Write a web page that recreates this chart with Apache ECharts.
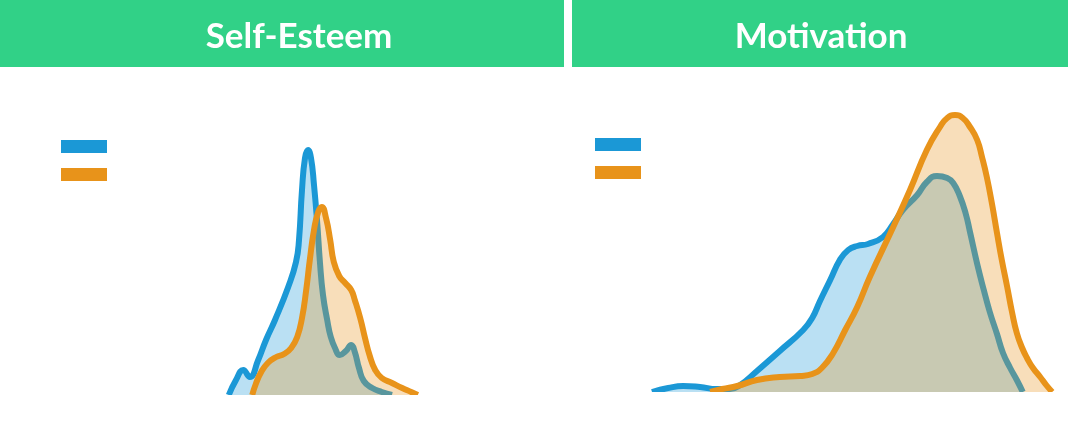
<!DOCTYPE html>
<html>
<head>
<meta charset="utf-8">
<title>Self-Esteem and Motivation</title>
<script src="https://cdn.jsdelivr.net/npm/echarts@6/dist/echarts.min.js"></script>
<style>
  html, body { margin: 0; padding: 0; background: #fff; }
  #chart { width: 1068px; height: 430px; }
</style>
</head>
<body>
<div id="chart"></div>
<script>
// panel titles and group names
const panelTitles = ["Self-Esteem", "Motivation"];
const groupNames = ["Group A", "Group B"];

// Self-Esteem densities (score, density)
const esteemA = [
  [14.8, 0], [16.0, 0.15], [17.2, 0.25], [18.3, 0.18], [19.7, 0.35], [21.0, 0.55],
  [22.5, 0.75], [24.7, 1.08], [26.0, 1.33], [26.5, 1.55], [27.0, 2.05], [27.5, 2.37],
  [28.0, 2.45], [28.5, 2.37], [29.0, 2.1], [29.5, 1.75], [30.0, 1.32], [30.5, 1.0],
  [31.2, 0.75], [31.8, 0.58], [32.5, 0.47], [33.3, 0.4], [34.3, 0.44], [35.2, 0.5],
  [35.8, 0.43], [36.5, 0.27], [37.3, 0.14], [38.7, 0.07], [40.3, 0.03], [42.0, 0]
];
const esteemB = [
  [18.7, 0], [19.3, 0.11], [20.2, 0.23], [21.3, 0.32], [22.7, 0.38], [24.0, 0.41],
  [25.2, 0.47], [26.2, 0.58], [27.0, 0.77], [27.7, 1.05], [28.3, 1.35], [29.0, 1.65],
  [29.7, 1.83], [30.3, 1.88], [31.0, 1.77], [31.7, 1.55], [32.3, 1.33], [33.2, 1.19],
  [34.2, 1.12], [35.2, 1.05], [35.8, 0.95], [36.7, 0.77], [37.5, 0.57], [38.3, 0.39],
  [39.2, 0.25], [40.3, 0.17], [42.0, 0.12], [43.7, 0.07], [45.2, 0.03], [46.3, 0]
];

// Motivation densities (score, density)
const motivA = [
  [2.0, 0], [4.7, 0.04], [7.2, 0.06], [10.0, 0.05], [12.8, 0.03], [15.0, 0.03],
  [16.7, 0.07], [19.5, 0.21], [23.3, 0.41], [27.2, 0.62], [28.7, 0.74], [30.0, 0.91],
  [31.7, 1.12], [33.3, 1.32], [34.7, 1.42], [36.2, 1.46], [38.0, 1.48], [40.5, 1.55],
  [42.2, 1.68], [43.8, 1.82], [46.2, 1.97], [47.8, 2.1], [49.5, 2.16], [51.2, 2.14],
  [52.2, 2.09], [53.3, 1.96], [54.3, 1.78], [55.0, 1.6], [56.2, 1.28], [57.3, 1.02],
  [58.3, 0.8], [59.5, 0.58], [60.5, 0.39], [61.7, 0.24], [62.8, 0.12], [63.8, 0]
];
const motivB = [
  [11.7, 0], [13.7, 0.03], [16.2, 0.06], [19.5, 0.12], [23.3, 0.15], [26.7, 0.16],
  [28.7, 0.18], [30.3, 0.24], [32.2, 0.39], [34.2, 0.62], [36.2, 0.85], [38.3, 1.15],
  [42.2, 1.65], [45.0, 2.02], [47.8, 2.42], [50.0, 2.65], [51.2, 2.74], [52.5, 2.77],
  [53.8, 2.74], [55.0, 2.65], [56.2, 2.52], [57.0, 2.35], [57.8, 2.15], [58.7, 1.87],
  [59.5, 1.59], [60.3, 1.32], [61.2, 1.05], [62.0, 0.8], [62.8, 0.59], [63.7, 0.44],
  [64.5, 0.34], [65.5, 0.24], [66.7, 0.15], [67.7, 0.07], [68.7, 0]
];

const blue = "#1b98d6";
const orange = "#e8931a";
const green = "#31d187";

const chart = echarts.init(document.getElementById("chart"));

// one density series (line + translucent fill)
function density(name, color, data, idx, z) {
  return {
    name: name,
    type: "line",
    xAxisIndex: idx,
    yAxisIndex: idx,
    data: data,
    smooth: 0.5,
    showSymbol: false,
    symbol: "none",
    color: color,
    z: z,
    lineStyle: { color: color, width: 6 },
    areaStyle: { color: color, opacity: 0.3 },
    silent: true,
    animation: false
  };
}

const hiddenAxis = { show: false, splitLine: { show: false } };

chart.setOption({
  animation: false,
  grid: [
    { left: 200, top: 95, width: 240, height: 300 },
    { left: 640, top: 92, width: 420, height: 300 }
  ],
  xAxis: [
    Object.assign({ type: "value", gridIndex: 0, min: 10, max: 50 }, hiddenAxis),
    Object.assign({ type: "value", gridIndex: 1, min: 0, max: 70 }, hiddenAxis)
  ],
  yAxis: [
    Object.assign({ type: "value", gridIndex: 0, min: 0, max: 3 }, hiddenAxis),
    Object.assign({ type: "value", gridIndex: 1, min: 0, max: 3 }, hiddenAxis)
  ],
  legend: [
    {
      data: groupNames, orient: "vertical", left: 61, top: 140,
      icon: "rect", itemWidth: 46, itemHeight: 13, itemGap: 15,
      formatter: () => "", selectedMode: false, padding: 0
    },
    {
      data: groupNames, orient: "vertical", left: 595, top: 138,
      icon: "rect", itemWidth: 46, itemHeight: 13, itemGap: 15,
      formatter: () => "", selectedMode: false, padding: 0
    }
  ],
  graphic: [
    // header bars
    { type: "rect", shape: { x: 0, y: 0, width: 564, height: 67 }, style: { fill: green }, z: 0 },
    { type: "rect", shape: { x: 572, y: 0, width: 496, height: 67 }, style: { fill: green }, z: 0 },
    {
      type: "text", x: 299, y: 37, z: 1,
      style: { text: panelTitles[0], fill: "#fff", font: "bold 35px Lato", align: "center", verticalAlign: "middle" }
    },
    {
      type: "text", x: 821, y: 37, z: 1,
      style: { text: panelTitles[1], fill: "#fff", font: "bold 35px Lato", align: "center", verticalAlign: "middle" }
    },
    // cut lines at the baseline
    { type: "rect", shape: { x: 0, y: 395, width: 566, height: 40 }, style: { fill: "#fff" }, z: 100 },
    { type: "rect", shape: { x: 566, y: 392, width: 502, height: 40 }, style: { fill: "#fff" }, z: 100 }
  ],
  series: [
    density(groupNames[0], blue, esteemA, 0, 2),
    density(groupNames[1], orange, esteemB, 0, 3),
    density(groupNames[0], blue, motivA, 1, 2),
    density(groupNames[1], orange, motivB, 1, 3)
  ]
});
</script>
</body>
</html>
